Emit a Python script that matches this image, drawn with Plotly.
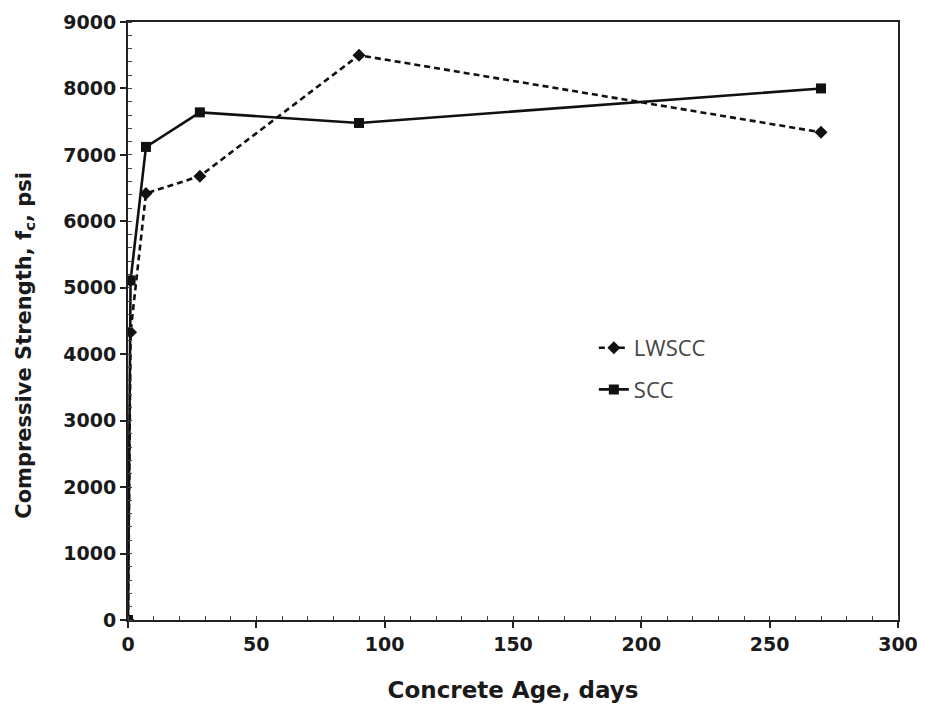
import plotly.graph_objects as go

age_lw = [0, 1, 7, 28, 90, 270]
lwscc = [0, 4330, 6420, 6680, 8500, 7340]
age_scc = [0, 1, 7, 28, 90, 270]
scc = [0, 5110, 7120, 7640, 7480, 8000]

x_ticks = [0, 50, 100, 150, 200, 250, 300]
y_ticks = [0, 1000, 2000, 3000, 4000, 5000, 6000, 7000, 8000, 9000]

fig = go.Figure()
fig.add_trace(go.Scatter(
    x=age_lw, y=lwscc, name="LWSCC", mode="lines+markers",
    line=dict(color="#111111", width=2.6, dash="6px,4px"),
    marker=dict(symbol="diamond", size=10, color="#111111"),
    legendgroup="a"))
fig.add_trace(go.Scatter(
    x=age_scc, y=scc, name="SCC", mode="lines+markers",
    line=dict(color="#111111", width=2.6),
    marker=dict(symbol="square", size=10, color="#111111"),
    legendgroup="b"))

axis_font = dict(family="DejaVu Sans", size=19, color="#1a1a1a")
title_font = dict(family="DejaVu Sans", size=23, color="#1a1a1a")

fig.update_layout(
    width=925, height=711,
    margin=dict(l=128, r=27, t=22, b=91),
    paper_bgcolor="white", plot_bgcolor="white",
    showlegend=True,
    legend=dict(x=0.605, y=0.49, xanchor="left", yanchor="top",
                bgcolor="rgba(0,0,0,0)", tracegroupgap=10,
                font=dict(family="Open Sans", size=22, color="#444444")),
    xaxis=dict(range=[0, 300], tickvals=x_ticks, automargin=False,
               ticktext=["<b>%d</b>" % v for v in x_ticks],
               showgrid=False, zeroline=False,
               showline=True, linecolor="#222222", linewidth=2, mirror=True,
               ticks="outside", ticklen=6, tickwidth=1.5, tickcolor="#222222",
               minor=dict(dtick=10, ticks="inside", ticklen=4, tickwidth=1, tickcolor="#444444", showgrid=False),
               tickfont=axis_font,
               title=dict(text="<b>Concrete Age, days</b>", font=title_font, standoff=28)),
    yaxis=dict(range=[0, 9000], tickvals=y_ticks, automargin=False,
               ticktext=["<b>%d</b>" % v for v in y_ticks],
               showgrid=False, zeroline=False,
               showline=True, linecolor="#222222", linewidth=2, mirror=True,
               ticks="outside", ticklen=6, tickwidth=1.5, tickcolor="#222222",
               minor=dict(dtick=200, ticks="inside", ticklen=4, tickwidth=1, tickcolor="#444444", showgrid=False),
               tickfont=axis_font),
    annotations=[dict(
        text="<b>Compressive Strength, f<sub>c</sub>, psi</b>",
        xref="paper", yref="paper", x=-0.134, y=0.46,
        xanchor="center", yanchor="middle", textangle=-90, showarrow=False,
        font=dict(family="DejaVu Sans", size=21, color="#1a1a1a"))],
)

fig.write_html("out.html")
